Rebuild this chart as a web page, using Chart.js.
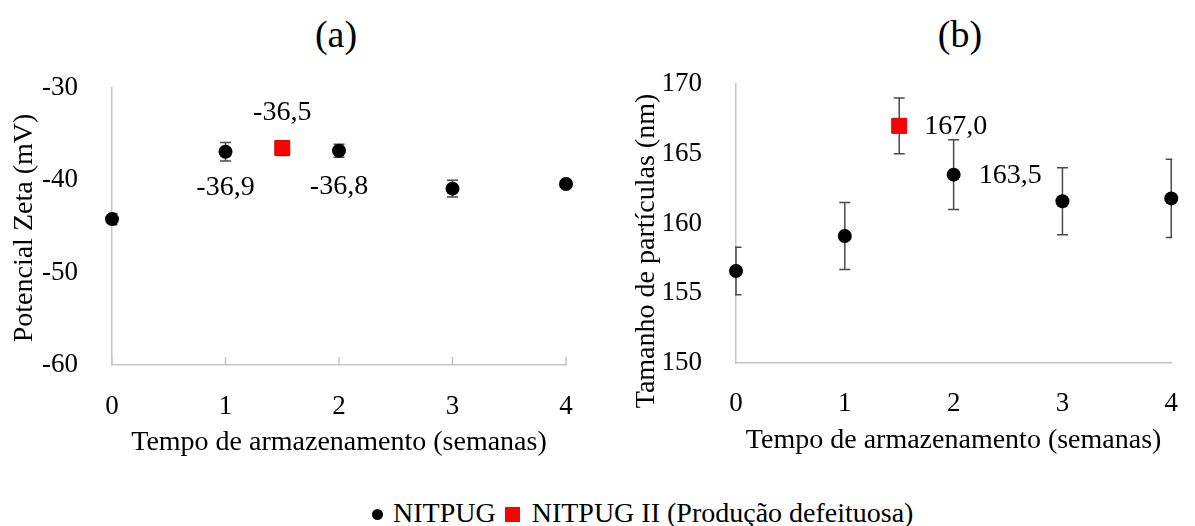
<!DOCTYPE html>
<html>
<head>
<meta charset="utf-8">
<script src="https://cdn.jsdelivr.net/npm/chart.js@4.4.1/dist/chart.umd.min.js"></script>
<style>
html, body { margin: 0; padding: 0; background: #fff; }
body { width: 1195px; height: 526px; position: relative; overflow: hidden; font-family: "Liberation Serif", "Times New Roman", serif; color: #000; }
.panel { position: absolute; top: 0; }
#boxA { left: 0; }
#boxB { left: 600px; }
.tag { position: absolute; top: 12px; width: 100px; margin-left: -50px; text-align: center; font-size: 38px; line-height: 44px; }
#legend { position: absolute; left: 372px; top: 497px; font-size: 28px; line-height: 32px; white-space: nowrap; }
#legend .dot { display: inline-block; width: 11px; height: 11px; border-radius: 50%; background: #000; margin-right: 10px; vertical-align: 2px; }
#legend .sq { display: inline-block; width: 15px; height: 15px; background: #ff0000; margin: 0 12px 0 9px; vertical-align: 0px; }
</style>
</head>
<body>
<div class="tag" style="left:336px">(a)</div>
<div class="tag" style="left:960px">(b)</div>
<div class="panel" id="boxA"><canvas id="chartZeta" width="600" height="470"></canvas></div>
<div class="panel" id="boxB"><canvas id="chartTamanho" width="595" height="470"></canvas></div>
<div id="legend"><span class="dot"></span>NITPUG<span class="sq"></span>NITPUG II (Produção defeituosa)</div>

<script>
// semanas de armazenamento
var semanas = [0, 1, 2, 3, 4];
var semanaDefeito = [1.5];

// (a) potencial zeta (mV)
var zetaNitpug = [-44.2, -36.9, -36.8, -40.9, -40.4];
var zetaNitpugErro = [0.6, 1.0, 0.7, 0.9, 0.3];
var zetaDefeito = [-36.5];
var zetaDefeitoErro = [0.8];
var zetaTicks = [-60, -50, -40, -30];

// (b) tamanho de particulas (nm)
var tamNitpug = [156.6, 159.1, 163.5, 161.6, 161.8];
var tamNitpugErro = [1.7, 2.4, 2.5, 2.4, 2.8];
var tamDefeito = [167.0];
var tamDefeitoErro = [2.0];
var tamTicks = [150, 155, 160, 165, 170];

var FONT = "'Liberation Serif', 'Times New Roman', serif";
var AXIS_GRAY = '#c6c6c6';
var ERR_GRAY = '#4a4a4a';

function pontos(xs, ys) {
  var out = [];
  for (var i = 0; i < xs.length; i++) out.push({ x: xs[i], y: ys[i] });
  return out;
}

function fmt(v) { return v.toFixed(1).replace('.', ','); }

// barras de erro desenhadas a partir das escalas
var errorBarsPlugin = {
  id: 'errorBars',
  beforeDatasetsDraw: function(chart) {
    var ctx = chart.ctx, ys = chart.scales.y, area = chart.chartArea;
    ctx.save();
    ctx.beginPath();
    ctx.rect(area.left - 1, 0, area.right - area.left + 2, chart.height);
    ctx.clip();
    ctx.strokeStyle = ERR_GRAY;
    ctx.lineWidth = 1.5;
    chart.data.datasets.forEach(function(ds, di) {
      if (!ds.errors) return;
      var meta = chart.getDatasetMeta(di);
      meta.data.forEach(function(pt, i) {
        var v = ds.data[i].y, e = ds.errors[i];
        var yTop = ys.getPixelForValue(v + e), yBot = ys.getPixelForValue(v - e);
        ctx.beginPath();
        ctx.moveTo(pt.x, yTop); ctx.lineTo(pt.x, yBot);
        ctx.moveTo(pt.x - 5.5, yTop); ctx.lineTo(pt.x + 5.5, yTop);
        ctx.moveTo(pt.x - 5.5, yBot); ctx.lineTo(pt.x + 5.5, yBot);
        ctx.stroke();
      });
    });
    ctx.restore();
  }
};

// rotulos de valor
var valueLabelsPlugin = {
  id: 'valueLabels',
  afterDatasetsDraw: function(chart) {
    var ctx = chart.ctx;
    ctx.save();
    ctx.fillStyle = '#000';
    ctx.font = '28px ' + FONT;
    ctx.textBaseline = 'middle';
    chart.data.datasets.forEach(function(ds, di) {
      if (!ds.labelAt) return;
      var meta = chart.getDatasetMeta(di);
      meta.data.forEach(function(pt, i) {
        var where = ds.labelAt[i];
        if (!where) return;
        var txt = fmt(ds.data[i].y);
        if (where === 'below') { ctx.textAlign = 'center'; ctx.fillText(txt, pt.x, pt.y + 36); }
        else if (where === 'above') { ctx.textAlign = 'center'; ctx.fillText(txt, pt.x, pt.y - 35); }
        else { ctx.textAlign = 'left'; ctx.fillText(txt, pt.x + 25, pt.y + 1); }
      });
    });
    ctx.restore();
  }
};

// marcas do eixo x voltadas para dentro
var innerTicksPlugin = {
  id: 'innerTicks',
  afterDraw: function(chart, args, opts) {
    if (!opts.show) return;
    var ctx = chart.ctx, xs = chart.scales.x, b = chart.chartArea.bottom;
    ctx.save();
    ctx.strokeStyle = AXIS_GRAY;
    ctx.lineWidth = 1.5;
    xs.ticks.forEach(function(t) {
      var px = xs.getPixelForValue(t.value);
      ctx.beginPath(); ctx.moveTo(px, b); ctx.lineTo(px, b - 8); ctx.stroke();
    });
    ctx.restore();
  }
};

// titulo do eixo y
var yTitlePlugin = {
  id: 'yTitle',
  afterDraw: function(chart, args, opts) {
    var ctx = chart.ctx;
    ctx.save();
    ctx.translate(opts.x, opts.y);
    ctx.rotate(-Math.PI / 2);
    ctx.fillStyle = '#000';
    ctx.font = '28px ' + FONT;
    ctx.textAlign = 'center';
    ctx.textBaseline = 'middle';
    ctx.fillText(opts.text, 0, 0);
    ctx.restore();
  }
};

function buildChart(id, cfg) {
  return new Chart(document.getElementById(id), {
    type: 'scatter',
    data: {
      datasets: [{
        label: 'NITPUG',
        data: pontos(semanas, cfg.nitpug),
        errors: cfg.nitpugErro,
        labelAt: cfg.nitpugLabels,
        pointStyle: 'circle',
        pointRadius: 7,
        pointBackgroundColor: '#000',
        pointBorderColor: '#000',
        pointBorderWidth: 0,
        showLine: false,
        clip: false
      }, {
        label: 'NITPUG II (Produção defeituosa)',
        data: pontos(semanaDefeito, cfg.defeito),
        errors: cfg.defeitoErro,
        labelAt: [cfg.defeitoLabel],
        pointStyle: 'rect',
        pointRadius: 10.6,
        pointBackgroundColor: '#ff0000',
        pointBorderColor: '#e00000',
        pointBorderWidth: 1,
        showLine: false,
        clip: false
      }]
    },
    options: {
      responsive: false,
      animation: false,
      events: [],
      layout: { padding: cfg.padding },
      plugins: {
        legend: { display: false },
        tooltip: { enabled: false },
        innerTicks: { show: cfg.innerTicks },
        yTitle: cfg.yTitle
      },
      scales: {
        x: {
          type: 'linear',
          min: 0, max: 4,
          afterFit: function(s) { s.height = 100; },
          afterBuildTicks: function(s) { s.ticks = semanas.map(function(v) { return { value: v }; }); },
          grid: { display: false },
          border: { display: true, color: AXIS_GRAY, width: 1.5 },
          ticks: { padding: cfg.xTickPad, color: '#000', font: { family: FONT, size: 27 }, maxRotation: 0, callback: function(v) { return String(v); } },
          title: { display: true, text: 'Tempo de armazenamento (semanas)', color: '#000', font: { family: FONT, size: 28 }, padding: { top: 0, bottom: 6 } }
        },
        y: {
          min: cfg.ticks[0], max: cfg.ticks[cfg.ticks.length - 1],
          afterFit: function(s) { s.width = cfg.yWidth; },
          afterBuildTicks: function(s) { s.ticks = cfg.ticks.map(function(v) { return { value: v }; }); },
          grid: { display: false },
          border: { display: true, color: AXIS_GRAY, width: 1.5 },
          ticks: { padding: 26, color: '#000', font: { family: FONT, size: 27 }, callback: function(v) { return String(v); } }
        }
      }
    },
    plugins: [errorBarsPlugin, valueLabelsPlugin, innerTicksPlugin, yTitlePlugin]
  });
}

buildChart('chartZeta', {
  nitpug: zetaNitpug, nitpugErro: zetaNitpugErro,
  defeito: zetaDefeito, defeitoErro: zetaDefeitoErro,
  nitpugLabels: [null, 'below', 'below', null, null], defeitoLabel: 'above',
  ticks: zetaTicks, yWidth: 112, xTickPad: 18,
  padding: { left: 0, top: 88, right: 34, bottom: 5 },
  innerTicks: true,
  yTitle: { text: 'Potencial Zeta (mV)', x: 25, y: 228 }
});

buildChart('chartTamanho', {
  nitpug: tamNitpug, nitpugErro: tamNitpugErro,
  defeito: tamDefeito, defeitoErro: tamDefeitoErro,
  nitpugLabels: [null, null, 'right', null, null], defeitoLabel: 'right',
  ticks: tamTicks, yWidth: 136, xTickPad: 17,
  padding: { left: 0, top: 84, right: 9, bottom: 7 },
  innerTicks: false,
  yTitle: { text: 'Tamanho de partículas (nm)', x: 47, y: 251 }
});
</script>
</body>
</html>
